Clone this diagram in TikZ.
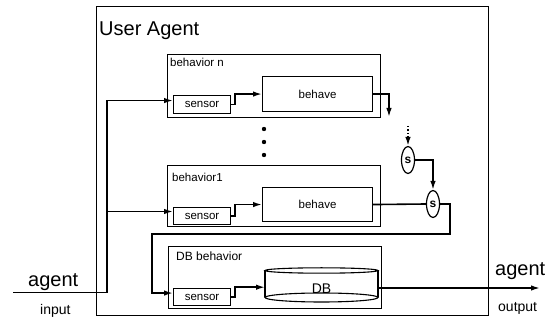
\documentclass[tikz,border=0pt]{standalone}
\usepackage{fontspec}
\setmainfont{Liberation Sans}
\usetikzlibrary{arrows.meta,shapes.geometric}
\begin{document}
\begin{tikzpicture}[x=1pt,y=-1pt,
  fs/.style={font=\fontsize{#1}{#1}\selectfont},
  box/.style={draw, line width=1.1pt, inner sep=0pt, anchor=north west},
  lbl/.style={inner sep=0pt, anchor=base west},
  conn/.style={line width=1.6pt, -{Latex[length=9pt,width=5.5pt]}},
  plain/.style={line width=1.6pt},
  sel/.style={draw, ellipse, line width=1.2pt, inner sep=0pt, minimum width=13pt, minimum height=27pt, font=\fontsize{12}{12}\selectfont\bfseries}
]
\useasboundingbox (0,0) rectangle (547,320);
% outer agent box
\node[box, line width=1pt, minimum width=392pt, minimum height=309pt] (ua) at (96,6) {};
\node[lbl, fs=20] (ualbl) at (99,36) {User Agent};
% behavior n
\node[box, minimum width=213pt, minimum height=63pt] (bn) at (167,54) {};
\node[lbl, fs=11.5] (bnlbl) at (170,67) {behavior n};
\node[box, minimum width=57pt, minimum height=18pt, fs=11.5] (sensorN) at (173,95) {sensor};
\node[box, minimum width=110pt, minimum height=35pt, fs=11.5] (behaveN) at (262,76) {behave};
% dots
\fill (264,129) circle[radius=2.2pt];
\fill (264,142) circle[radius=2.2pt];
\fill (264,155) circle[radius=2.2pt];
% behavior 1
\node[box, minimum width=213pt, minimum height=61pt] (b1) at (167,165) {};
\node[lbl, fs=11.5] (b1lbl) at (172,182) {behavior1};
\node[box, minimum width=57pt, minimum height=17pt, fs=11.5] (sensor1) at (173,207) {sensor};
\node[box, minimum width=110pt, minimum height=34pt, fs=11.5] (behave1) at (262,187) {behave};
% DB behavior
\node[box, minimum width=213pt, minimum height=62pt] (bdb) at (168,246) {};
\node[lbl, fs=12] (bdblbl) at (176,261) {DB behavior};
\node[box, minimum width=57pt, minimum height=17pt, fs=11.5] (sensorDB) at (173,288) {sensor};
\node[inner sep=0pt, minimum width=113pt, minimum height=34pt, anchor=north west] (db) at (265,268) {};
\draw[line width=1.1pt] (265,270.5) -- (265,297.5);
\draw[line width=1.1pt] (378,270.5) -- (378,297.5);
\draw[line width=1.1pt] (321.5,270.5) ellipse[x radius=56.5pt, y radius=2.7pt];
\draw[line width=1.1pt] (321.5,297.5) ellipse[x radius=56.5pt, y radius=4.5pt];
\node[fs=14, inner sep=0pt, anchor=base] (dblbl) at (321.5,294) {DB};
% s nodes
\node[sel] (s1) at (408,160) {s};
\node[sel] (s2) at (433,204) {s};
% coordinates
\coordinate (inStart) at (13,292.5);
\coordinate (inJoin) at (107,292.5);
\coordinate (branch1) at (107,211.5);
\coordinate (endN) at (389,117);
\coordinate (dotTop) at (408,126);
\coordinate (loopA) at (450,234);
\coordinate (loopB) at (152,234);
\coordinate (outEnd) at (540,288);
% connectors
\draw[conn] (inStart) -- (inJoin) |- ([yshift=4pt]sensorN.west);
\draw[conn] (branch1) -- (branch1 -| sensor1.west);
\draw[conn] (sensorN.east) -- ++(4,0) |- (behaveN.west);
\draw[conn] (sensor1.east) -- ++(4,0) |- (behave1.west);
\draw[conn] (sensorDB.east) -- ++(4,0) |- ([yshift=-2pt]db.west);
\draw[conn] (behaveN.east) -| (endN);
\draw[conn, dash pattern=on 1.5pt off 2pt] (dotTop) -- (s1.north);
\draw[conn] (s1.east) -| (s2.north);
\draw[plain] (behave1.east) -- (s2.west);
\draw[conn] (s2.east) -| (loopA) -- (loopB) |- ([yshift=4pt]sensorDB.west);
\draw[conn] (db.east |- outEnd) -- (outEnd);
% outside labels
\node[lbl, fs=20] (agentIn) at (28,287) {agent};
\node[lbl, fs=14] (inputLbl) at (40,315) {input};
\node[lbl, fs=20] (agentOut) at (495,276) {agent};
\node[lbl, fs=14] (outputLbl) at (498,312) {output};
\end{tikzpicture}
\end{document}
